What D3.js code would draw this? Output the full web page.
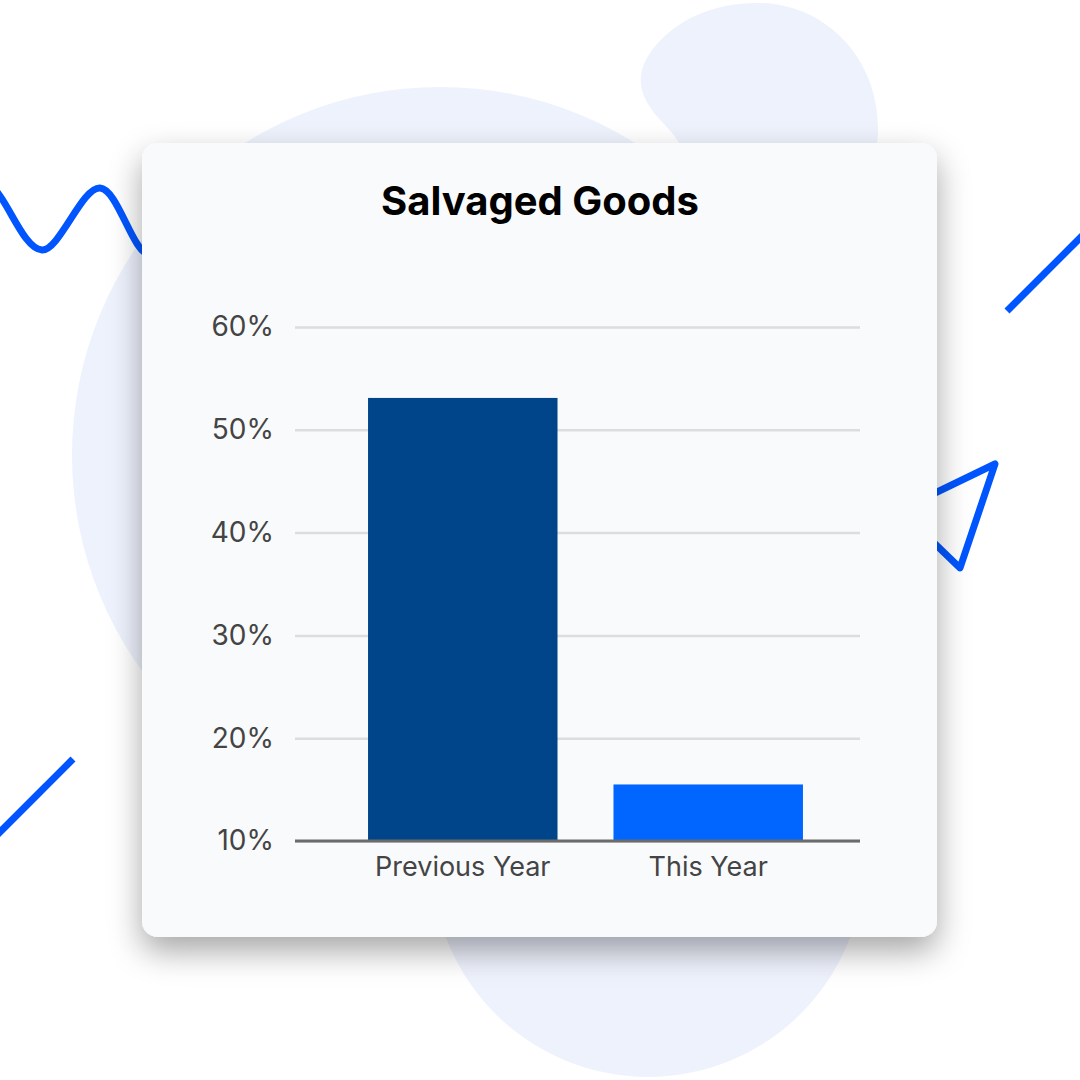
<!DOCTYPE html>
<html><head><meta charset="utf-8">
<script src="https://cdn.jsdelivr.net/npm/d3@7"></script>
<style>html,body{margin:0;padding:0;background:#fff;}svg{display:block;}</style>
</head><body>
<svg id="c" width="1080" height="1080"></svg>
<script>
const categories = ["Previous Year", "This Year"];
const values = [53.1, 15.5];
const barColors = ["#00448a", "#0066ff"];
const tickValues = [10, 20, 30, 40, 50, 60];
const tickLabels = ["10%", "20%", "30%", "40%", "50%", "60%"];
const title = "Salvaged Goods";

const svg = d3.select("#c");
const defs = svg.append("defs");
const f = defs.append("filter").attr("id","sh").attr("x","-20%").attr("y","-20%").attr("width","140%").attr("height","150%");
f.append("feDropShadow").attr("dx",0).attr("dy",14).attr("stdDeviation",16).attr("flood-color","#000").attr("flood-opacity",0.35);

// background decorations
const bg = svg.append("g");
bg.append("circle").attr("cx",440).attr("cy",455).attr("r",368).attr("fill","#eef2fd");
bg.append("circle").attr("cx",648).attr("cy",861).attr("r",216).attr("fill","#eef2fd");
bg.append("path").attr("fill","#eef2fd")
  .attr("d","M758,3 C825,3 878,58 878,128 C878,200 820,250 755,250 C720,250 700,160 665,125 C640,100 632,78 652,50 C677,18 715,3 758,3 Z");
const blue = "#0055ff";
bg.append("path").attr("d", d3.line().curve(d3.curveCatmullRom)([[-30,150],[0,196],[42,250],[100,188],[150,255],[200,200]]))
  .attr("fill","none").attr("stroke",blue).attr("stroke-width",7).attr("stroke-linecap","round");
bg.append("line").attr("x1",1007).attr("y1",311).attr("x2",1090).attr("y2",228).attr("stroke",blue).attr("stroke-width",7);
bg.append("line").attr("x1",73).attr("y1",759).attr("x2",-10).attr("y2",842).attr("stroke",blue).attr("stroke-width",7);
bg.append("path").attr("d","M995,464 L960,568 L900,510 Z").attr("fill","none").attr("stroke",blue).attr("stroke-width",7).attr("stroke-linejoin","round");

// card
svg.append("rect").attr("x",142).attr("y",143).attr("width",795).attr("height",794).attr("rx",16)
  .attr("fill","#f9fafc").attr("filter","url(#sh)");

svg.append("text").attr("x",540).attr("y",215).attr("text-anchor","middle")
  .attr("font-family","Inter, 'Noto Sans', sans-serif").attr("font-weight",700).attr("font-size",40)
  .attr("fill","#000").text(title);

const y = d3.scaleLinear().domain([10,60]).range([841,327]);
const gridX0 = 295, gridX1 = 860;
const x = d3.scaleBand().domain(categories).range([303,868]).paddingInner(0.228).paddingOuter(0.265);

const yAxis = d3.axisLeft(y).tickValues(tickValues).tickFormat((d,i)=>tickLabels[i]).tickSize(-(gridX1-gridX0)).tickPadding(21);
const ga = svg.append("g").attr("transform",`translate(${gridX0},0)`).call(yAxis);
ga.select(".domain").remove();
ga.selectAll(".tick line").attr("stroke","#dcdde0").attr("stroke-width",2.5);
ga.selectAll(".tick text").attr("font-family","Inter, 'Noto Sans', sans-serif").attr("font-size",28).attr("fill","#444");

svg.append("g").selectAll("rect").data(values).join("rect")
  .attr("x",(d,i)=>x(categories[i])).attr("width",x.bandwidth())
  .attr("y",d=>y(d)).attr("height",d=>y(10)-y(d)).attr("fill",(d,i)=>barColors[i]);

const xAxis = d3.axisBottom(x).tickSize(0).tickPadding(16);
const gx = svg.append("g").attr("transform",`translate(0,${y(10)})`).call(xAxis);
gx.select(".domain").remove();
gx.selectAll(".tick text").attr("font-family","Inter, 'Noto Sans', sans-serif").attr("font-size",27).attr("fill","#444");
svg.append("line").attr("x1",gridX0).attr("x2",gridX1).attr("y1",y(10)).attr("y2",y(10)).attr("stroke","#6b6b6b").attr("stroke-width",3);
</script>
</body></html>
